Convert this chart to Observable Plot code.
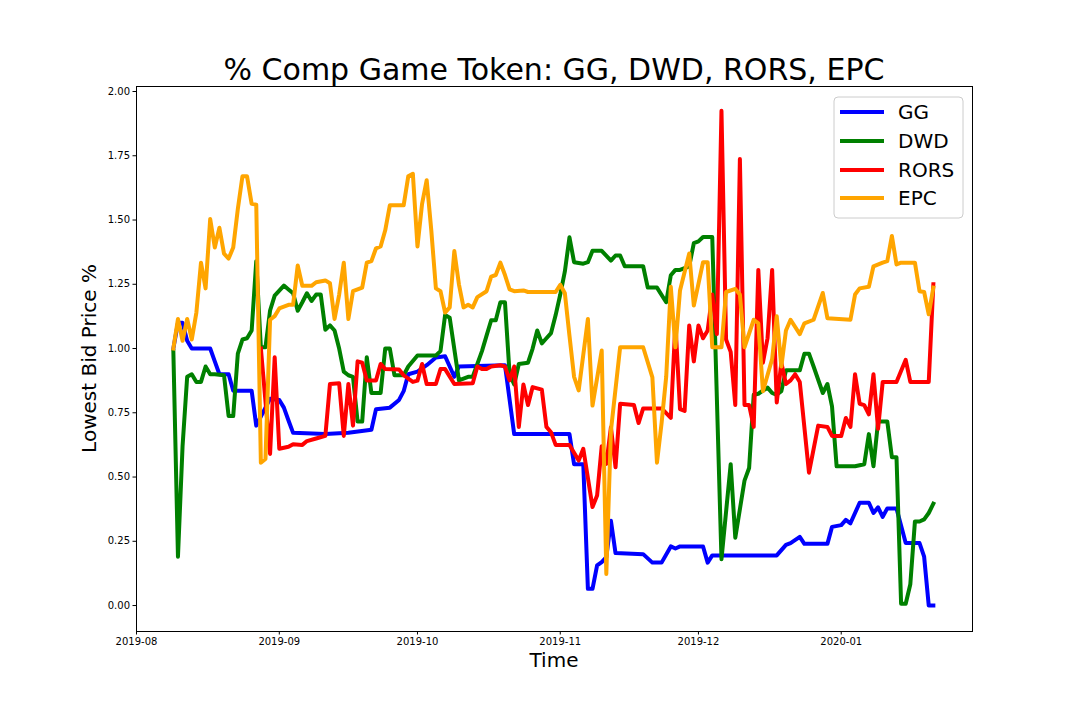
<!DOCTYPE html>
<html>
<head>
<meta charset="utf-8">
<script src="https://cdn.jsdelivr.net/npm/d3@7"></script>
<script src="https://cdn.jsdelivr.net/npm/@observablehq/plot@0.6"></script>
<style>
  html, body { margin: 0; padding: 0; background: #ffffff; }
  #chart { width: 1080px; height: 720px; position: relative; }
  svg { font-family: "DejaVu Sans", sans-serif; }
</style>
</head>
<body>
<div id="chart"></div>
<script>
// ---- Data (day offset from 2019-08-09, value) ----
const startDate = Date.UTC(2019, 7, 9);

const ggDays = [0,1,2,3,4,8,9,10,12,13,17,18,21,23,24,25,26,33,38,43,44,47,49,50,51,53,55,57,59,61,62,72,74,86,87,89,90,91,92,93,94,95,96,102,104,106,108,109,110,115,116,117,131,133,134,136,137,142,143,145,146,147,149,151,152,153,154,155,157,159,162,163,164,165];
const ggValues = [1.00,1.10,1.10,1.03,1.00,1.00,0.95,0.90,0.90,0.836,0.836,0.70,0.805,0.80,0.77,0.72,0.672,0.667,0.672,0.684,0.764,0.77,0.80,0.834,0.90,0.91,0.935,0.965,0.97,0.89,0.93,0.935,0.667,0.667,0.55,0.55,0.065,0.065,0.156,0.169,0.188,0.33,0.204,0.20,0.167,0.167,0.23,0.222,0.23,0.23,0.167,0.195,0.195,0.236,0.243,0.267,0.24,0.24,0.306,0.313,0.333,0.32,0.40,0.40,0.36,0.382,0.345,0.378,0.378,0.243,0.243,0.19,0.0,0.0];

const dwdDays = [0,1,2,3,4,5,6,7,8,9,11,12,13,14,15,16,17,18,19,20,21,22,24,25,26,27,28,29,30,31,32,33,34,35,36,37,38,39,40,41,42,43,45,46,47,48,50,51,53,57,58,59,60,62,64,65,67,68,69,70,71,72,73,74,75,77,78,79,80,81,82,83,84,85,86,87,89,90,91,93,95,96,97,98,102,103,105,107,108,109,110,112,113,114,115,117,119,121,122,124,125,126,127,129,130,131,132,133,136,137,138,139,141,142,143,144,148,150,151,152,153,155,156,157,158,159,160,161,162,163,164,165];
const dwdValues = [0.99,0.19,0.62,0.89,0.90,0.87,0.87,0.93,0.90,0.90,0.896,0.737,0.737,0.98,1.035,1.04,1.07,1.34,1.005,1.005,1.148,1.206,1.245,1.23,1.215,1.147,1.18,1.215,1.185,1.21,1.21,1.073,1.09,1.07,1.0,0.91,0.896,0.89,0.716,0.716,0.966,0.827,0.827,1.0,1.0,0.896,0.896,0.93,0.973,0.973,0.99,1.13,1.12,0.876,0.89,0.89,0.99,1.05,1.11,1.11,1.18,1.18,0.90,0.86,0.94,0.945,1.0,1.07,1.02,1.04,1.06,1.13,1.21,1.30,1.433,1.336,1.33,1.336,1.38,1.38,1.342,1.362,1.362,1.32,1.32,1.237,1.237,1.18,1.285,1.306,1.306,1.32,1.41,1.417,1.434,1.434,0.18,0.55,0.264,0.486,0.535,0.82,0.824,0.848,0.827,0.82,0.834,0.915,0.915,0.98,0.98,0.93,0.827,0.862,0.775,0.542,0.542,0.55,0.667,0.542,0.716,0.716,0.577,0.577,0.007,0.007,0.083,0.327,0.327,0.335,0.36,0.396];

const rorsDays = [19,21,22,23,25,26,28,29,31,33,34,36,37,38,39,40,41,42,44,45,46,49,50,52,53,54,55,57,58,59,61,65,66,67,68,69,71,72,73,74,75,76,77,78,79,80,81,82,83,86,88,89,91,92,93,94,95,96,97,100,101,102,106,108,109,110,111,112,113,114,115,116,117,118,119,120,121,122,123,124,125,126,127,128,129,130,131,132,133,134,135,136,138,140,142,143,145,146,147,148,149,150,151,152,153,154,157,159,160,164,165];
const rorsValues = [1.0,0.59,0.966,0.61,0.618,0.628,0.625,0.64,0.65,0.66,0.862,0.865,0.66,0.862,0.70,0.95,0.945,0.876,0.876,0.94,0.92,0.918,0.896,0.87,0.875,0.94,0.862,0.862,0.92,0.92,0.862,0.865,0.93,0.92,0.92,0.93,0.935,0.93,0.876,0.93,0.695,0.86,0.78,0.85,0.845,0.84,0.695,0.674,0.625,0.625,0.564,0.61,0.383,0.428,0.62,0.551,0.694,0.538,0.785,0.78,0.71,0.767,0.767,0.73,1.1,0.764,0.757,1.09,0.95,1.09,1.04,1.07,1.21,1.056,1.925,1.035,0.987,0.78,1.737,0.78,0.78,0.695,1.306,0.945,1.04,1.306,0.79,0.945,0.862,0.876,0.90,0.87,0.517,0.70,0.695,0.66,0.66,0.73,0.695,0.90,0.785,0.78,0.744,0.90,0.688,0.87,0.87,0.956,0.87,0.87,1.25];

const epcDays = [0,1,2,3,4,5,6,7,8,9,10,11,12,13,14,15,16,17,18,19,20,21,22,23,25,26,27,28,30,31,33,34,35,36,37,38,39,41,42,43,44,45,46,47,50,51,52,53,54,55,56,57,58,59,60,61,62,63,64,65,66,68,69,70,71,72,73,74,76,77,83,84,85,86,87,88,90,91,93,94,95,97,102,104,105,106,107,108,109,110,112,113,115,116,117,119,120,122,123,124,126,127,128,130,131,132,133,134,136,137,139,141,142,147,148,149,151,152,154,155,156,157,158,161,162,163,164,165];
const epcValues = [1.0,1.115,1.03,1.115,1.035,1.14,1.334,1.234,1.504,1.393,1.47,1.369,1.35,1.393,1.543,1.67,1.67,1.563,1.56,0.556,0.57,1.112,1.126,1.156,1.17,1.17,1.323,1.244,1.244,1.258,1.265,1.254,1.115,1.21,1.334,1.115,1.223,1.237,1.334,1.34,1.39,1.397,1.46,1.557,1.557,1.67,1.68,1.397,1.563,1.655,1.46,1.234,1.223,1.14,1.16,1.379,1.25,1.16,1.17,1.16,1.2,1.223,1.28,1.286,1.334,1.286,1.23,1.223,1.226,1.22,1.22,1.248,1.215,1.05,0.89,0.837,1.115,0.778,0.992,0.123,0.68,1.005,1.005,0.888,0.556,0.71,0.89,1.24,1.005,1.226,1.37,1.167,1.336,1.336,1.005,1.005,1.22,1.232,1.21,1.005,1.112,1.098,0.834,0.959,1.126,0.93,1.07,1.112,1.056,1.098,1.112,1.216,1.118,1.112,1.21,1.234,1.24,1.32,1.334,1.34,1.438,1.327,1.334,1.334,1.223,1.22,1.133,1.237];

const seriesNames = ["GG", "DWD", "RORS", "EPC"];
const seriesColors = ["#0000ff", "#008000", "#ff0000", "#ffa500"];
const xTicks = ["2019-08-01","2019-09-01","2019-10-01","2019-11-01","2019-12-01","2020-01-01"];
const yTicks = [0, 0.25, 0.5, 0.75, 1.0, 1.25, 1.5, 1.75, 2.0];

const titleText = "% Comp Game Token: GG, DWD, RORS, EPC";
const xLabel = "Time";
const yLabel = "Lowest Bid Price %";

// ---- Build tables ----
function toRows(days, values, name) {
  return days.map((d, i) => ({date: new Date(startDate + d * 864e5), value: values[i], series: name}));
}
const allDays = [ggDays, dwdDays, rorsDays, epcDays];
const allValues = [ggValues, dwdValues, rorsValues, epcValues];
const tables = seriesNames.map((n, k) => toRows(allDays[k], allValues[k], n));

const W = 1080, H = 720;
const mL = 136, mR = 108, mT = 86, mB = 89;

const plot = Plot.plot({
  width: W,
  height: H,
  marginLeft: mL,
  marginRight: mR,
  marginTop: mT,
  marginBottom: mB,
  style: {fontFamily: "DejaVu Sans, sans-serif", fontSize: "10px", color: "#000", background: "#fff"},
  x: {type: "utc", domain: [new Date(Date.UTC(2019, 7, 1)), new Date(Date.UTC(2020, 0, 29, 12))]},
  y: {domain: [-0.101, 2.0195]},
  color: {domain: seriesNames, range: seriesColors},
  marks: [
    ...tables.map(t => Plot.line(t, {x: "date", y: "value", stroke: "series", strokeWidth: 4, strokeLinejoin: "round", strokeLinecap: "square"})),
    Plot.frame({stroke: "#000", strokeWidth: 1}),
    Plot.axisX({ticks: xTicks.map(s => new Date(s + "T00:00:00Z")), tickFormat: d3.utcFormat("%Y-%m"), tickSize: 3.5, tickPadding: 3, fontSize: 10, label: null, stroke: "#000"}),
    Plot.axisY({ticks: yTicks, tickFormat: d3.format(".2f"), tickSize: 3.5, tickPadding: 3, fontSize: 10, label: null, stroke: "#000"})
  ]
});

document.getElementById("chart").appendChild(plot);

// ---- Title, axis labels, legend (text) ----
const svg = d3.select(plot);
const cx = mL + (W - mL - mR) / 2;
const cy = mT + (H - mT - mB) / 2;

svg.append("text")
  .attr("x", cx).attr("y", 80)
  .attr("text-anchor", "middle")
  .attr("font-size", 30).attr("fill", "#000")
  .text(titleText);

svg.append("text")
  .attr("x", cx).attr("y", 667)
  .attr("text-anchor", "middle")
  .attr("font-size", 20).attr("fill", "#000")
  .text(xLabel);

svg.append("text")
  .attr("transform", `translate(96,${cy}) rotate(-90)`)
  .attr("text-anchor", "middle")
  .attr("font-size", 20).attr("fill", "#000")
  .text(yLabel);

const lg = svg.append("g");
lg.append("rect")
  .attr("x", 834).attr("y", 97).attr("width", 129).attr("height", 121)
  .attr("rx", 4).attr("fill", "#fff").attr("fill-opacity", 0.8)
  .attr("stroke", "#cccccc").attr("stroke-width", 1);
const rowY = [112, 141, 170, 198];
seriesNames.forEach((n, k) => {
  lg.append("line")
    .attr("x1", 840).attr("x2", 884).attr("y1", rowY[k]).attr("y2", rowY[k])
    .attr("stroke", seriesColors[k]).attr("stroke-width", 4);
  lg.append("text")
    .attr("x", 898).attr("y", rowY[k] + 7.3)
    .attr("text-anchor", "start")
    .attr("font-size", 20).attr("fill", "#000")
    .text(n);
});
</script>
</body>
</html>
